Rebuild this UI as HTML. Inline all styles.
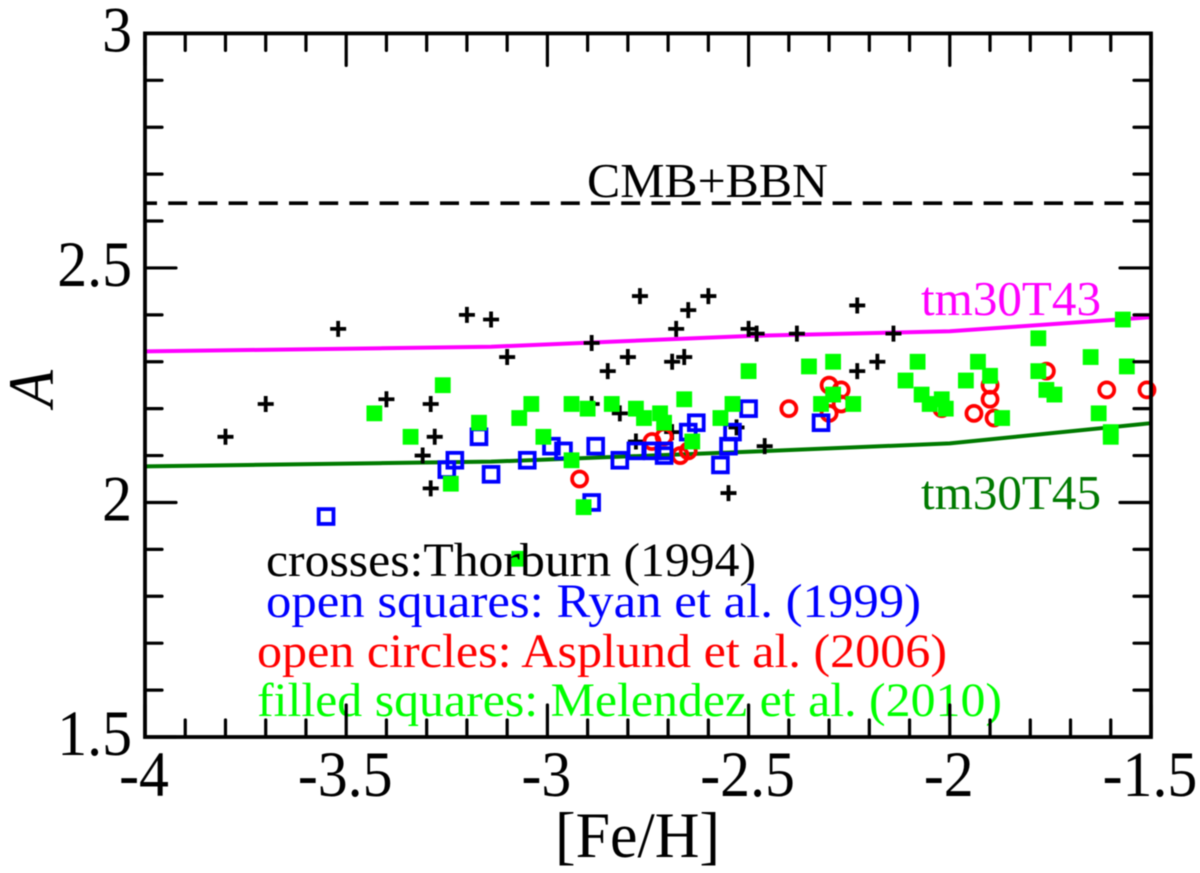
<!DOCTYPE html>
<html lang="en">
<head>
<meta charset="utf-8">
<title>Lithium abundance A versus [Fe/H]</title>
<style>
html,body{margin:0;padding:0;background:#fff;}
svg{display:block;filter:blur(0.4px);}
text{font-family:"Liberation Serif",serif;}
</style>
</head>
<body>
<svg id="chart" xmlns="http://www.w3.org/2000/svg" width="1200" height="873" viewBox="0 0 1200 873">
  <rect x="0" y="0" width="1200" height="873" fill="#fff"/>
  <g id="lines"></g>
  <g id="crosses"></g>
  <g id="circles"></g>
  <g id="opensq"></g>
  <g id="filledsq"></g>
  <g id="annotations">
    <text x="587" y="197" font-size="49" fill="#000" textLength="241" lengthAdjust="spacingAndGlyphs">CMB+BBN</text>
    <text x="921" y="315" font-size="49" fill="#ff00ff" textLength="180" lengthAdjust="spacingAndGlyphs">tm30T43</text>
    <text x="921" y="509" font-size="49" fill="#007a00" textLength="180" lengthAdjust="spacingAndGlyphs">tm30T45</text>
    <text x="266" y="576" font-size="48" fill="#000" textLength="490" lengthAdjust="spacingAndGlyphs">crosses:Thorburn (1994)</text>
    <text x="266" y="617" font-size="48" fill="#0000ff" textLength="655" lengthAdjust="spacingAndGlyphs">open squares: Ryan et al. (1999)</text>
    <text x="257" y="667" font-size="48" fill="#ff0000" textLength="690" lengthAdjust="spacingAndGlyphs">open circles: Asplund et al. (2006)</text>
    <text x="257" y="716" font-size="48" fill="#00ff00" textLength="745" lengthAdjust="spacingAndGlyphs">filled squares: Melendez et al. (2010)</text>
  </g>
  <g id="axes"></g>
  <text x="555" y="857" font-size="65" fill="#000" textLength="165" lengthAdjust="spacingAndGlyphs">[Fe/H]</text>
  <text transform="translate(53 407) rotate(-90)" x="0" y="0" font-size="65" font-style="italic" fill="#000" textLength="37" lengthAdjust="spacingAndGlyphs">A</text>
</svg>
<script>
// ---- data ----
const xTickLabels = ['-4', '-3.5', '-3', '-2.5', '-2', '-1.5'];
const yTickLabels = ['1.5', '2', '2.5', '3'];
const xMajorTicks = [-4, -3.5, -3, -2.5, -2, -1.5];
const yMajorTicks = [1.5, 2, 2.5, 3];

const crossFeH = [-3.80,-3.70,-3.52,-3.20,-3.14,-3.40,-3.29,-3.28,-3.31,-3.29,-3.10,-2.89,-2.85,-2.80,-2.77,-2.65,-2.60,-2.68,-2.69,-2.66,-2.50,-2.48,-2.38,-2.82,-2.89,-2.78,-2.46,-2.55,-2.53,-2.69,-2.23,-2.14,-2.18,-2.23];
const crossA   = [2.14,2.21,2.37,2.40,2.39,2.22,2.21,2.14,2.10,2.03,2.31,2.34,2.28,2.31,2.44,2.41,2.44,2.37,2.30,2.31,2.37,2.36,2.36,2.19,2.21,2.13,2.12,2.02,2.16,2.15,2.42,2.36,2.30,2.28];

const openSquareFeH = [-3.55,-3.25,-3.23,-3.17,-3.14,-3.05,-2.99,-2.96,-2.89,-2.88,-2.82,-2.78,-2.74,-2.71,-2.71,-2.65,-2.63,-2.57,-2.55,-2.54,-2.50,-2.32];
const openSquareA   = [1.97,2.07,2.09,2.14,2.06,2.09,2.12,2.11,2.00,2.12,2.09,2.11,2.11,2.10,2.11,2.15,2.17,2.08,2.12,2.15,2.20,2.17];

const circleFeH = [-2.92,-2.74,-2.71,-2.67,-2.65,-2.40,-2.30,-2.27,-2.30,-2.27,-2.02,-1.90,-1.90,-1.94,-1.89,-1.76,-1.61,-1.51];
const circleA   = [2.05,2.13,2.14,2.10,2.11,2.20,2.25,2.24,2.19,2.21,2.20,2.25,2.22,2.19,2.18,2.28,2.24,2.24];

const filledFeH = [-3.26,-3.43,-3.34,-3.24,-3.17,-3.07,-3.04,-3.01,-2.94,-2.90,-2.94,-2.91,-2.84,-2.78,-2.76,-2.72,-2.71,-2.66,-2.64,-2.57,-2.54,-2.50,-2.35,-2.29,-2.32,-2.29,-2.24,-2.08,-2.11,-2.07,-2.05,-2.02,-2.01,-1.96,-1.93,-1.90,-1.87,-1.78,-1.78,-1.76,-1.74,-1.65,-1.63,-1.60,-1.60,-1.57,-1.56,-3.07];
const filledA   = [2.25,2.19,2.14,2.04,2.17,2.18,2.21,2.14,2.21,2.20,2.09,1.99,2.21,2.20,2.18,2.19,2.17,2.22,2.13,2.18,2.21,2.28,2.29,2.30,2.21,2.23,2.21,2.30,2.26,2.23,2.21,2.22,2.20,2.26,2.30,2.27,2.18,2.35,2.28,2.24,2.23,2.31,2.19,2.15,2.14,2.39,2.29,1.88];

const modelFeH   = [-4, -3.14, -2.5, -2, -1.5];
const tm30T43    = [2.322, 2.332, 2.355, 2.365, 2.395];
const tm30T45    = [2.077, 2.087, 2.108, 2.126, 2.169];
const bbnFeH     = [-4, -1.5];
const bbnA       = [2.638, 2.638];

// ---- axis functions ----
const LEFT = 145, RIGHT = 1151, TOP = 33.4, BOTTOM = 737;
function sx(v){ return LEFT + (v + 4) / 2.5 * (RIGHT - LEFT); }
function sy(v){ return BOTTOM - (v - 1.5) / 1.5 * (BOTTOM - TOP); }

const NS = 'http://www.w3.org/2000/svg';
function make(tag, parentId, attrs){
  const el = document.createElementNS(NS, tag);
  for (const k in attrs) el.setAttribute(k, attrs[k]);
  document.getElementById(parentId).appendChild(el);
  return el;
}

// ---- model lines ----
function pathOf(xs, ys){
  return xs.map((x, i) => (i ? 'L' : 'M') + sx(x).toFixed(2) + ' ' + sy(ys[i]).toFixed(2)).join(' ');
}
const magentaLine = make('path', 'lines', {d: pathOf(modelFeH, tm30T43), fill: 'none', stroke: '#ff00ff', 'stroke-width': 4});


const greenLine = make('path', 'lines', {d: pathOf(modelFeH, tm30T45), fill: 'none', stroke: '#007a00', 'stroke-width': 4});


const bbnLine = make('path', 'lines', {d: pathOf(bbnFeH, bbnA), fill: 'none', stroke: '#000', 'stroke-width': 3.6, 'stroke-dasharray': '19 11.2', 'stroke-dashoffset': 7});



// ---- markers ----
crossFeH.forEach((x, i) => {
  const cx = sx(x), cy = sy(crossA[i]), r = 8;
  const el = make('path', 'crosses', {d: `M${cx - r} ${cy}H${cx + r}M${cx} ${cy - r}V${cy + r}`, stroke: '#000', 'stroke-width': 3.8, fill: 'none'});
  
  
});
circleFeH.forEach((x, i) => {
  const el = make('circle', 'circles', {cx: sx(x), cy: sy(circleA[i]), r: 7.5, fill: 'none', stroke: '#ff0000', 'stroke-width': 3.8});
  
  
});
openSquareFeH.forEach((x, i) => {
  const s = 14.8;
  const el = make('rect', 'opensq', {x: sx(x) - s / 2, y: sy(openSquareA[i]) - s / 2, width: s, height: s, fill: 'none', stroke: '#0000ff', 'stroke-width': 3.8});
  
  
});
filledFeH.forEach((x, i) => {
  const s = 15.8;
  const el = make('rect', 'filledsq', {x: sx(x) - s / 2, y: sy(filledA[i]) - s / 2, width: s, height: s, fill: '#00ff00'});
  
  
});

// ---- axes ----
const frame = make('rect', 'axes', {x: LEFT, y: TOP, width: RIGHT - LEFT, height: BOTTOM - TOP, fill: 'none', stroke: '#000', 'stroke-width': 3.8});



for (let k = 0; k <= 25; k++) {
  const v = -4 + k * 0.1;
  const px = sx(v);
  const len = k % 5 === 0 ? 32 : 17;
  const t = make('path', 'axes', {d: `M${px} ${BOTTOM}V${BOTTOM - len}M${px} ${TOP}V${TOP + len}`, stroke: '#000', 'stroke-width': 3.2, 'stroke-linecap': 'round'});
  
  
}
for (let k = 0; k <= 15; k++) {
  const v = 1.5 + k * 0.1;
  const py = sy(v);
  const len = k % 5 === 0 ? 31 : 17;
  const t = make('path', 'axes', {d: `M${LEFT} ${py}H${LEFT + len}M${RIGHT} ${py}H${RIGHT - len}`, stroke: '#000', 'stroke-width': 3.2, 'stroke-linecap': 'round'});
  
  
}
function squeeze(el){
  const w = el.getComputedTextLength();
  el.setAttribute('textLength', (w * 0.92).toFixed(1));
  el.setAttribute('lengthAdjust', 'spacingAndGlyphs');
}
xMajorTicks.forEach((v, i) => {
  const el = make('text', 'axes', {x: sx(v) - 1, y: 796, 'text-anchor': 'middle', 'font-size': 65, fill: '#000'});
  el.textContent = xTickLabels[i];
  
  
  squeeze(el);
});
yMajorTicks.forEach((v, i) => {
  const el = make('text', 'axes', {x: 132, y: sy(v) + 18, 'text-anchor': 'end', 'font-size': 65, fill: '#000'});
  el.textContent = yTickLabels[i];
  
  
  squeeze(el);
});
</script>
</body>
</html>
